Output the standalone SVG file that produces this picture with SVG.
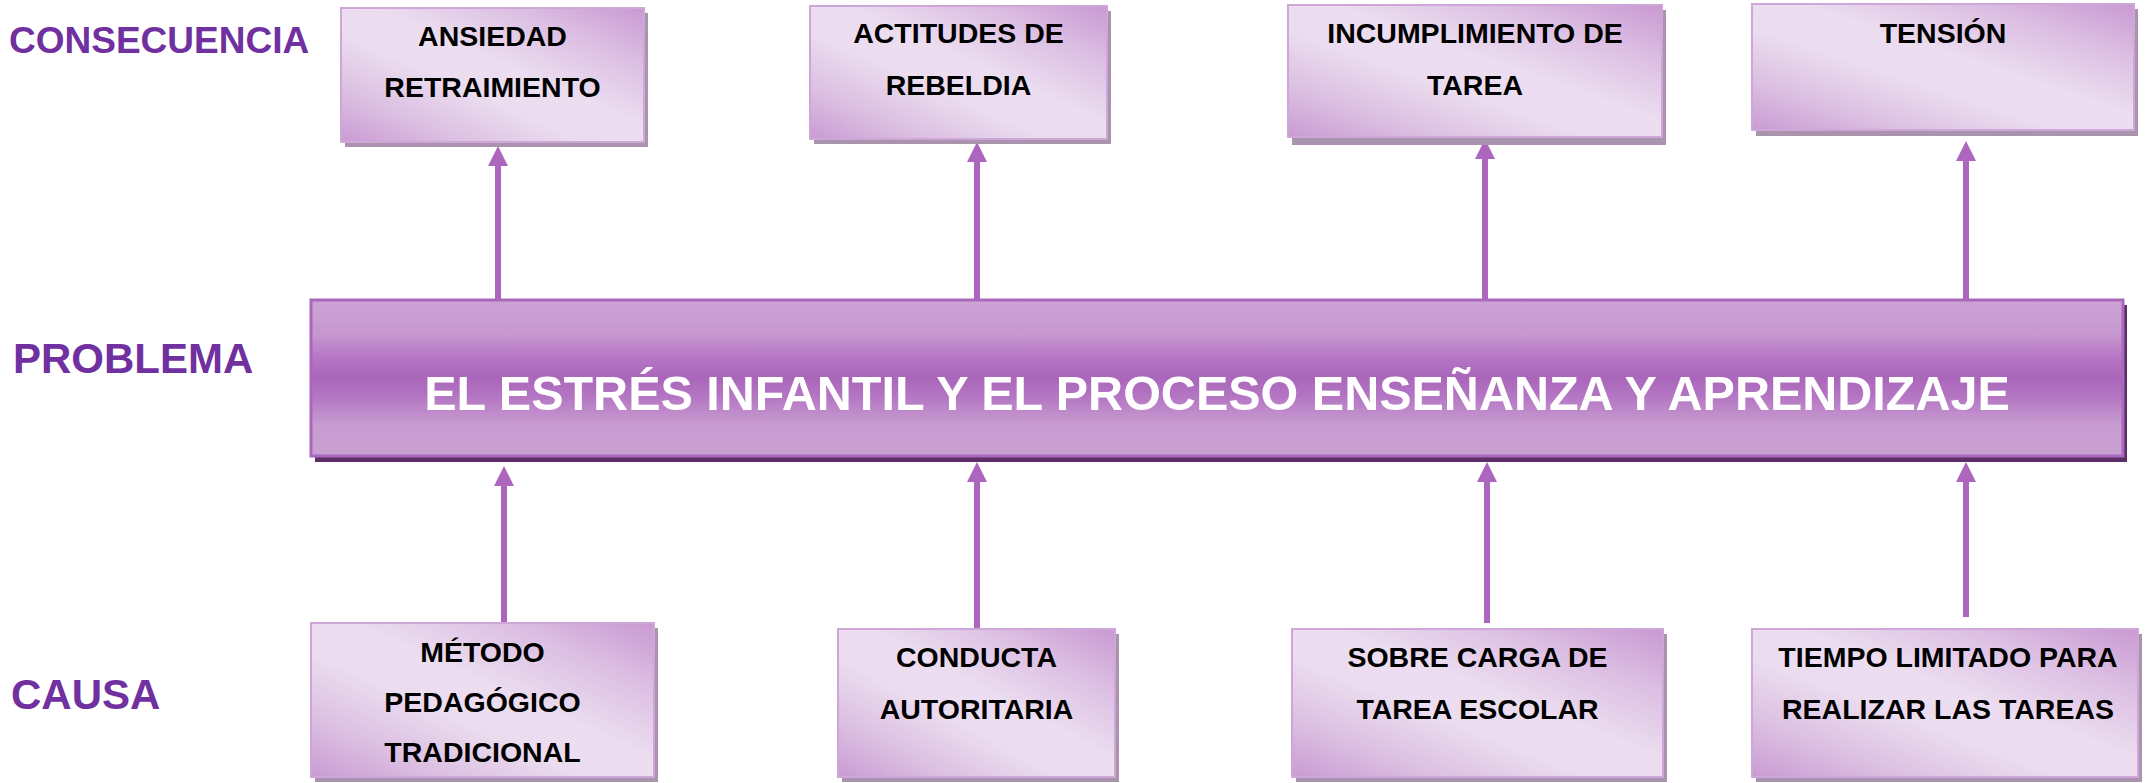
<svg xmlns="http://www.w3.org/2000/svg" width="2156" height="783" viewBox="0 0 2156 783">
<style>
.lbl{font-family:"Liberation Sans",Arial,sans-serif;font-weight:bold;fill:#7030a0}
.bt{font-family:"Liberation Sans",Arial,sans-serif;font-weight:bold;font-size:28.5px;fill:#000;text-anchor:middle}
.box{fill:url(#gBox);stroke:#cfa6d8;stroke-width:2}
.sh{fill:#a993ad}
.con{stroke:#ad66bd;stroke-width:6;fill:none;marker-end:url(#ah)}
</style>
<defs>
<linearGradient id="gBox" x1="1" y1="0" x2="0" y2="1">
<stop offset="0" stop-color="#c999d2"/>
<stop offset="0.22" stop-color="#dcbfe3"/>
<stop offset="0.45" stop-color="#ecdef0"/>
<stop offset="0.6" stop-color="#ebdcef"/>
<stop offset="0.8" stop-color="#dcc0e2"/>
<stop offset="1" stop-color="#c99bd3"/>
</linearGradient>
<linearGradient id="gProb" x1="0" y1="0" x2="0" y2="1">
<stop offset="0" stop-color="#cda3d6"/>
<stop offset="0.22" stop-color="#c797d0"/>
<stop offset="0.38" stop-color="#b574c4"/>
<stop offset="0.5" stop-color="#aa66ba"/>
<stop offset="0.62" stop-color="#b476c3"/>
<stop offset="0.8" stop-color="#c89cd1"/>
<stop offset="1" stop-color="#caa0d3"/>
</linearGradient>
<marker id="ah" viewBox="0 0 20 20" refX="0" refY="10" markerWidth="20" markerHeight="20" markerUnits="userSpaceOnUse" orient="auto">
<path d="M0,0 L20,10 L0,20 Z" fill="#ad66bd"/>
</marker>
</defs>
<rect width="2156" height="783" fill="#fff"/>

<g id="labels">
<text class="lbl" x="9" y="53" font-size="37">CONSECUENCIA</text>
<text class="lbl" x="13" y="373" font-size="42">PROBLEMA</text>
<text class="lbl" x="11" y="709" font-size="42">CAUSA</text>
</g>

<g id="connectors">
<line class="con" x1="498" y1="299" x2="498" y2="166"/>
<line class="con" x1="977" y1="299" x2="977" y2="162"/>
<line class="con" x1="1485" y1="299" x2="1485" y2="159"/>
<line class="con" x1="1966" y1="299" x2="1966" y2="161"/>
<line class="con" x1="504" y1="623" x2="504" y2="486"/>
<line class="con" x1="977" y1="629" x2="977" y2="482"/>
<line class="con" x1="1487" y1="623" x2="1487" y2="482"/>
<line class="con" x1="1966" y1="617" x2="1966" y2="482"/>
</g>

<g id="c1">
<rect class="sh" x="345" y="13" width="303" height="134"/>
<rect class="box" x="341" y="8" width="303" height="134"/>
<text class="bt" x="492.5" y="46">ANSIEDAD</text>
<text class="bt" x="492.5" y="97">RETRAIMIENTO</text>
</g>
<g id="c2">
<rect class="sh" x="814" y="11" width="297" height="133"/>
<rect class="box" x="810" y="6" width="297" height="133"/>
<text class="bt" x="958.5" y="43">ACTITUDES DE</text>
<text class="bt" x="958.5" y="95">REBELDIA</text>
</g>
<g id="c3">
<rect class="sh" x="1292" y="10" width="374" height="135"/>
<rect class="box" x="1288" y="5" width="374" height="132"/>
<text class="bt" x="1475" y="43">INCUMPLIMIENTO DE</text>
<text class="bt" x="1475" y="95">TAREA</text>
</g>
<g id="c4">
<rect class="sh" x="1756" y="9" width="382" height="127"/>
<rect class="box" x="1752" y="4" width="382" height="126"/>
<text class="bt" x="1943" y="43">TENSIÓN</text>
</g>

<g id="problema">
<rect x="315" y="305" width="1812" height="157" fill="#5b2e66"/>
<rect x="311" y="300" width="1812" height="156" fill="url(#gProb)" stroke="#a968bd" stroke-width="3"/>
<text x="1217" y="410" font-family="Liberation Sans, Arial, sans-serif" font-weight="bold" font-size="48.5" fill="#fff" text-anchor="middle">EL ESTRÉS INFANTIL Y EL PROCESO ENSEÑANZA Y APRENDIZAJE</text>
</g>

<g id="k1">
<rect class="sh" x="315" y="628" width="343" height="154"/>
<rect class="box" x="311" y="623" width="343" height="154"/>
<text class="bt" x="482.5" y="662">MÉTODO</text>
<text class="bt" x="482.5" y="712">PEDAGÓGICO</text>
<text class="bt" x="482.5" y="762">TRADICIONAL</text>
</g>
<g id="k2">
<rect class="sh" x="842" y="634" width="277" height="148"/>
<rect class="box" x="838" y="629" width="277" height="148"/>
<text class="bt" x="976.5" y="667">CONDUCTA</text>
<text class="bt" x="976.5" y="719">AUTORITARIA</text>
</g>
<g id="k3">
<rect class="sh" x="1296" y="634" width="371" height="148"/>
<rect class="box" x="1292" y="629" width="371" height="148"/>
<text class="bt" x="1477.5" y="667">SOBRE CARGA DE</text>
<text class="bt" x="1477.5" y="719">TAREA ESCOLAR</text>
</g>
<g id="k4">
<rect class="sh" x="1756" y="634" width="386" height="148"/>
<rect class="box" x="1752" y="629" width="386" height="148"/>
<text class="bt" x="1948" y="667">TIEMPO LIMITADO PARA</text>
<text class="bt" x="1948" y="719">REALIZAR LAS TAREAS</text>
</g>
</svg>
